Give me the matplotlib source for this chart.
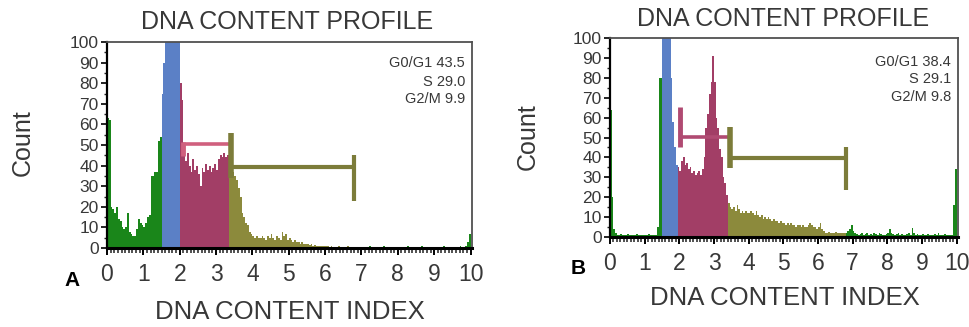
import numpy as np
import matplotlib
matplotlib.use("Agg")
import matplotlib.pyplot as plt
from matplotlib.ticker import MultipleLocator

plt.rcParams['font.family'] = ['Liberation Sans', 'DejaVu Sans']

# ---------------- data ----------------
bin_width = 0.05
bin_start = np.arange(0, 10, bin_width)

counts_A = [
    63, 62, 20, 19, 17, 20, 14, 13, 10, 9, 10, 17, 8, 7, 6, 6, 9, 14, 12, 11,
    10, 12, 15, 16, 35, 35, 37, 37, 52, 54, 75, 90, 105, 105, 105, 105, 105, 105, 105, 105,
    80, 72, 50, 42, 46, 40, 37, 43, 38, 40, 36, 30, 39, 37, 41, 38, 40, 37, 39, 41,
    38, 43, 45, 44, 46, 44, 45, 45, 40, 37, 35, 33, 29, 25, 17, 15, 12, 11, 8, 7,
    6, 5, 6, 5, 5, 6, 5, 4, 6, 5, 7, 5, 4, 6, 5, 4, 8, 6, 7, 4,
    5, 4, 3, 4, 3, 3, 2, 3, 2, 2, 2, 1.5, 2, 1, 1.5, 1, 1, 1, 0.8, 0.8,
    1, 0.8, 0.6, 0.8, 0.5, 0.6, 0.5, 0.8, 0.5, 0.5, 0.6, 0.5, 0.8, 0.5, 0.5, 0.5, 0.6, 0.5, 0.5, 0.5,
    0.5, 0.6, 0.5, 0.5, 0.8, 0.5, 0.5, 0.6, 0.5, 0.5, 0.5, 0.5, 0.8, 0.5, 0.5, 0.5, 0.5, 0.5, 0.6, 0.5,
    0.5, 0.5, 0.6, 0.5, 0.5, 0.8, 0.5, 0.5, 0.5, 0.6, 0.5, 0.5, 0.5, 0.8, 0.5, 0.5, 0.5, 0.6, 0.5, 0.5,
    0.5, 0.6, 0.5, 0.5, 0.5, 0.8, 0.5, 0.5, 0.5, 0.6, 0.5, 0.5, 0.5, 0.5, 0.8, 0.5, 0.6, 1, 3, 7,
]

counts_B = [
    64, 20, 4, 2, 1, 1, 1.5, 1, 1, 1, 1.5, 1, 1, 1, 1, 1.5, 1, 1, 1, 1,
    1, 1, 1.5, 1, 1, 1, 1, 5, 80, 80, 105, 105, 105, 105, 105, 80, 58, 45, 36, 35,
    33, 38, 40, 36, 37, 34, 35, 32, 33, 31, 32, 33, 31, 34, 40, 55, 62, 72, 78, 91,
    78, 60, 55, 44, 40, 30, 27, 21, 17, 15, 14, 15, 13, 16, 14, 12, 13, 12, 13, 12,
    12, 13, 12, 11, 13, 11, 10, 11, 9, 10, 9, 10, 9, 8, 9, 8, 8, 7, 8, 7,
    7, 6, 7, 6, 7, 6, 6, 5, 6, 6, 5, 6, 5, 5, 6, 7, 6, 5, 5, 4,
    5, 7, 4, 3, 2, 2, 2.5, 2, 2, 2, 2.5, 2, 2, 2, 2, 2, 2, 3, 4, 6,
    3, 2, 1.5, 1, 1.5, 2, 1, 1.5, 2, 1, 1.5, 1, 2, 1.5, 1, 2, 1.5, 1, 1, 1.5,
    2, 4, 2, 1.5, 1, 1.5, 2, 1, 1.5, 1, 1, 1.5, 2, 1, 4.5, 2, 1, 1.5, 1, 1,
    1.5, 1, 1, 1.5, 1, 1, 1, 1.5, 1, 2, 1, 1, 1, 1.5, 1, 1, 1, 1, 16, 34,
]

# gates: (start, end) on DNA content index
gates_A = {"G1": (1.5, 2.0), "S": (2.0, 3.35), "G2": (3.35, 6.8)}
gates_B = {"G1": (1.5, 1.95), "S": (1.95, 3.4), "G2": (3.4, 6.8)}

# gate marker levels (count) for bracket bars
s_bar_A, g2_bar_A = 50.5, 39.5
s_bar_B, g2_bar_B = 50.4, 39.5

stats_A = ["G0/G1 43.5", "S 29.0", "G2/M 9.9"]
stats_B = ["G0/G1 38.4", "S 29.1", "G2/M 9.8"]

x_ticks = list(range(0, 11))
y_ticks = list(range(0, 101, 10))

# ---------------- styles ----------------
C_GREEN = "#1a861a"
C_BLUE = "#5b80c6"
C_RED = "#a23e66"
C_OLIVE = "#8c8a3c"
C_SBAR_A = "#d0607e"
C_SBAR_B = "#b04a72"
C_GBAR = "#7c7c3a"
TXT = "#383838"

W, H = 970, 327
fig = plt.figure(figsize=(W / 100, H / 100), dpi=100)


def fx(px):
    return px / W


def fy(py):
    return 1 - py / H


def colors_for(gates):
    cols = []
    for s in bin_start:
        c = s + bin_width / 2
        if gates["G1"][0] <= c < gates["G1"][1]:
            cols.append(C_BLUE)
        elif gates["S"][0] <= c < gates["S"][1]:
            cols.append(C_RED)
        elif gates["G2"][0] <= c < gates["G2"][1]:
            cols.append(C_OLIVE)
        else:
            cols.append(C_GREEN)
    return cols


def draw_panel(ax, counts, gates, sbar, gbar, sbar_col, s_tick, g_left_tick, g_right_tick):
    ax.bar(bin_start, counts, width=bin_width, align='edge',
           color=colors_for(gates), linewidth=0)
    ax.set_xlim(0, 10.04)
    ax.set_ylim(0, 100)
    # S gate bracket
    s0, s1 = gates["S"]
    sx0 = s0 + 0.08
    ax.plot([sx0, s1], [sbar, sbar], color=sbar_col, lw=2.6, solid_capstyle='butt', zorder=3)
    ax.plot([sx0, sx0], s_tick, color=sbar_col, lw=3.5, solid_capstyle='butt', zorder=3)
    # G2 gate bracket
    g0, g1 = gates["G2"]
    ax.plot([g0 + 0.08, g1], [gbar, gbar], color=C_GBAR, lw=3.0, solid_capstyle='butt', zorder=3)
    ax.plot([g0 + 0.05, g0 + 0.05], g_left_tick, color=C_GBAR, lw=4.0, solid_capstyle='butt', zorder=4)
    ax.plot([g1, g1], g_right_tick, color=C_GBAR, lw=3.0, solid_capstyle='butt', zorder=3)

    ax.set_xticks(x_ticks)
    ax.set_yticks(y_ticks)
    ax.xaxis.set_minor_locator(MultipleLocator(0.1))
    ax.yaxis.set_minor_locator(MultipleLocator(5))
    ax.tick_params(axis='x', which='major', length=5, width=1.4, color='black',
                   labelsize=16.5, labelcolor=TXT, pad=6)
    ax.tick_params(axis='x', which='minor', length=3.5, width=1.1, color='#222222')
    ax.tick_params(axis='y', which='major', length=4, width=1.2, color='black',
                   labelsize=12.5, labelcolor=TXT, pad=2)
    ax.tick_params(axis='y', which='minor', length=2.5, width=1.0, color='#222222')
    ax.spines['bottom'].set_linewidth(2.2)
    ax.spines['bottom'].set_color('black')
    ax.spines['left'].set_linewidth(1.6)
    ax.spines['left'].set_color('black')
    for sp in ('top', 'right'):
        ax.spines[sp].set_linewidth(1.3)
        ax.spines[sp].set_color('#505050')


axA = fig.add_axes([fx(107), fy(248), (472 - 107) / W, (248 - 42) / H])
draw_panel(axA, counts_A, gates_A, s_bar_A, g2_bar_A, C_SBAR_A,
           (44.5, 51.5), (34, 56), (23, 45))

axB = fig.add_axes([fx(610), fy(237), (958 - 610) / W, (237 - 38) / H])
draw_panel(axB, counts_B, gates_B, s_bar_B, g2_bar_B, C_SBAR_B,
           (45.4, 65.5), (34.5, 55.4), (23.6, 45.4))

# ---------------- texts ----------------
def panel_texts(title_xy, xlabel_xy, count_xy, letter, letter_xy, stats, stats_x, stats_y):
    fig.text(fx(title_xy[0]), fy(title_xy[1]), "DNA CONTENT PROFILE", ha='center', va='center',
             fontsize=18, color=TXT)
    fig.text(fx(xlabel_xy[0]), fy(xlabel_xy[1]), "DNA CONTENT INDEX", ha='center', va='center',
             fontsize=18.5, color=TXT)
    fig.text(fx(count_xy[0]), fy(count_xy[1]), "Count", ha='center', va='center',
             rotation=90, fontsize=18, color=TXT)
    fig.text(fx(letter_xy[0]), fy(letter_xy[1]), letter, ha='center', va='center',
             fontsize=15, fontweight='bold', color='black')
    for s, yy in zip(stats, stats_y):
        fig.text(fx(stats_x), fy(yy), s, ha='right', va='center', fontsize=10.5, color=TXT)


panel_texts((287, 22), (290, 312), (23, 143), "A", (72, 280), stats_A, 465, (63, 82, 99))
panel_texts((783, 19), (785, 298), (528, 137), "B", (578, 268), stats_B, 951, (62, 79, 97))

fig.savefig("out.png", dpi=100)
